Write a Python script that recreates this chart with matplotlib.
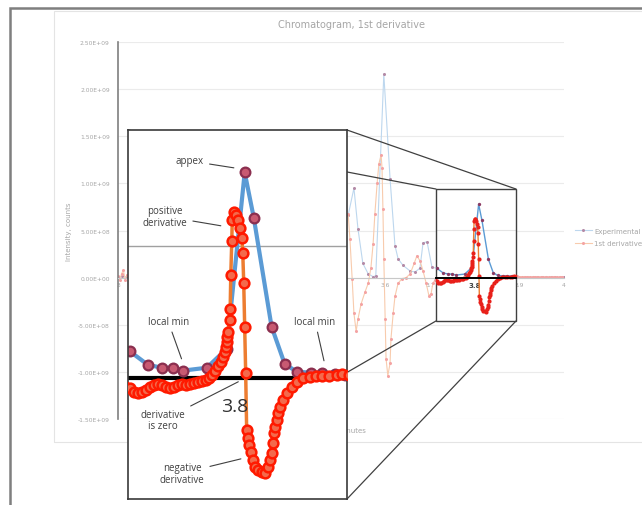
import matplotlib.pyplot as plt
import numpy as np
from matplotlib.patches import ConnectionPatch, Rectangle
from matplotlib.ticker import FuncFormatter

W, H = 642, 506
SCALE = 1e8  # values below are in units of 1e8 counts

# Experimental chromatogram (minutes, counts/1e8)
exp_x = [3.000, 3.010, 3.020,
         3.516, 3.529, 3.538, 3.549, 3.561, 3.572, 3.578, 3.596, 3.610, 3.621,
         3.628, 3.639, 3.655, 3.666, 3.677, 3.684, 3.693, 3.704,
         3.7146, 3.7293, 3.7408, 3.7498, 3.7579, 3.7775, 3.7939, 3.8086, 3.8160,
         3.8306, 3.8413, 3.8511, 3.8633, 3.8723, 3.8829, 3.8910,
         3.900, 3.910, 3.920, 3.930, 3.940, 3.950, 3.960, 3.970, 3.980, 3.990, 4.000]
exp_y = [0.10, 0.12, 0.10,
         6.6, 9.5, 5.2, 1.5, 0.4, 0.1, 0.2, 21.6, 10.5, 3.4,
         2.0, 1.3, 0.7, 0.6, 1.0, 3.7, 3.8, 1.1,
         1.00, 0.49, 0.38, 0.38, 0.27, 0.38, 1.10, 7.79, 6.08,
         1.94, 0.53, 0.23, 0.19, 0.19, 0.15, 0.11,
         0.10, 0.10, 0.09, 0.09, 0.08, 0.08, 0.07, 0.07, 0.07, 0.06, 0.06]

# 1st derivative (minutes, counts/1e8)
der_x = [3.000, 3.004, 3.008, 3.012, 3.016, 3.020, 3.024,
         3.516, 3.520, 3.525, 3.529, 3.534, 3.538, 3.545, 3.554, 3.561, 3.567,
         3.572, 3.576, 3.581, 3.585, 3.590, 3.592, 3.594, 3.596, 3.599, 3.601,
         3.605, 3.610, 3.612, 3.617, 3.621, 3.628, 3.637, 3.646, 3.655, 3.664,
         3.670, 3.677, 3.684, 3.691, 3.697, 3.702, 3.706, 3.710,
         3.7146, 3.7179, 3.7212, 3.7244, 3.7277, 3.7310, 3.7342, 3.7375, 3.7408,
         3.7440, 3.7473, 3.7506, 3.7538, 3.7571, 3.7604, 3.7637, 3.7669, 3.7702,
         3.7735, 3.7767, 3.7792, 3.7816, 3.7841, 3.7865, 3.7890, 3.7906, 3.7922,
         3.7931, 3.7939, 3.7943, 3.7947, 3.7963, 3.7967, 3.7972, 3.7980, 3.7984,
         3.7996, 3.8012, 3.8029, 3.8045, 3.8061, 3.8070, 3.8078, 3.8086, 3.8094,
         3.8102, 3.8110, 3.8119, 3.8135, 3.8151, 3.8168, 3.8192, 3.8225, 3.8249,
         3.8274, 3.8290, 3.8306, 3.8315, 3.8323, 3.8331, 3.8347, 3.8356, 3.8372,
         3.8396, 3.8429, 3.8470, 3.8511, 3.8560, 3.8617, 3.8674, 3.8723, 3.8780,
         3.8838, 3.8887,
         3.894, 3.900, 3.906, 3.912, 3.918, 3.924, 3.930, 3.936, 3.942, 3.948,
         3.954, 3.960, 3.966, 3.972, 3.978, 3.984, 3.990, 3.996]
der_y = [0.2, -0.3, 0.4, 0.8, -0.2, 0.3, 0.1,
         6.8, 4.1, -0.1, -3.8, -5.7, -4.4, -2.8, -1.5, -0.6, 1.0,
         3.6, 6.8, 10.0, 12.1, 13.0, 11.6, 7.3, 2.0, -4.4, -8.6,
         -10.4, -9.1, -6.5, -3.8, -2.0, -0.6, -0.1, 0.0, 0.4, 1.5,
         2.3, 1.8, 0.7, -0.6, -1.9, -1.7, -0.6, -0.3,
         -0.38, -0.53, -0.57, -0.53, -0.46, -0.34, -0.27, -0.23, -0.27,
         -0.34, -0.38, -0.34, -0.27, -0.23, -0.27, -0.23, -0.19, -0.15,
         -0.11, -0.08, 0.00, 0.11, 0.27, 0.46, 0.61, 0.80, 0.99,
         1.18, 1.37, 1.56, 1.75, 2.20, 2.62, 3.88, 5.17, 5.97,
         6.27, 6.19, 5.97, 5.70, 5.32, 4.75, 3.61, 1.94, 0.19,
         -1.98, -2.28, -2.55, -2.81, -3.12, -3.38, -3.50, -3.57, -3.61,
         -3.38, -3.12, -2.85, -2.47, -2.09, -1.86, -1.60, -1.33, -1.10,
         -0.84, -0.57, -0.34, -0.15, 0.00, 0.04, 0.08, 0.08, 0.08,
         0.11, 0.15,
         0.12, 0.10, 0.11, 0.09, 0.10, 0.08, 0.09, 0.08, 0.07, 0.08,
         0.07, 0.06, 0.07, 0.06, 0.05, 0.06, 0.05, 0.05]

x_ticks = [3.0, 3.1, 3.2, 3.3, 3.4, 3.5, 3.6, 3.7, 3.8, 3.9, 4.0]
x_labels = ['3', '3.1', '3.2', '3.3', '3.4', '3.5', '3.6', '3.7', '', '3.9', '4']
y_ticks = [-1.5e9, -1.0e9, -0.5e9, 0.0, 0.5e9, 1.0e9, 1.5e9, 2.0e9, 2.5e9]
zoom_xlim = (3.713, 3.8924)
zoom_ylim = (-4.6e8, 9.4e8)

exp_y = np.array(exp_y) * SCALE
der_y = np.array(der_y) * SCALE


def box(left, top, w, h):
    # pixel rectangle -> figure fraction
    return [left / W, 1 - (top + h) / H, w / W, h / H]


fig = plt.figure(figsize=(W / 100, H / 100), dpi=100)
grey = '#A6A6A6'

# frames around the slide / chart area
fig.add_artist(Rectangle((10 / W, -0.5), 2, 1.5 - 9 / H, transform=fig.transFigure,
                         fill=False, ec='#7F7F7F', lw=1.8))
fig.add_artist(Rectangle((54 / W, 1 - 443 / H), 2, (443 - 12) / H, transform=fig.transFigure,
                         fill=False, ec='#E4E4E4', lw=0.8))

# main chart
ax = fig.add_axes(box(118, 43, 446, 377))
ax.set_xlim(3.0, 4.0)
ax.set_ylim(-1.5e9, 2.5e9)
ax.plot(exp_x, exp_y, color='#BDD7EE', lw=0.8, marker='o', ms=2.2,
        mfc='#B48AA6', mec='none', label='Experimental')
ax.plot(der_x, der_y, color='#F8CBAD', lw=0.8, marker='o', ms=2.2,
        mfc='#F4A3A3', mec='none', label='1st derivative')
ax.set_xticks(x_ticks)
ax.set_xticklabels(x_labels)
ax.set_yticks(y_ticks)
ax.yaxis.set_major_formatter(FuncFormatter(lambda v, p: f'{v:.2E}'))
ax.yaxis.grid(True, color='#EBEBEB', lw=0.8)
ax.set_axisbelow(True)
for s in ['top', 'right']:
    ax.spines[s].set_visible(False)
ax.spines['left'].set_color('#7F7F7F')
ax.spines['left'].set_linewidth(1.2)
ax.spines['bottom'].set_position(('data', 0))
ax.spines['bottom'].set_color('#C8C8C8')
ax.spines['bottom'].set_linewidth(0.8)
ax.tick_params(length=0, labelsize=4.3, labelcolor=grey)
ax.tick_params(axis='y', pad=6)
ax.tick_params(axis='x', pad=3)
ax.set_ylabel('Intensity, counts', fontsize=5, color=grey)
ax.yaxis.set_label_coords((72 - 118) / 446, 0.5)
ax.set_xlabel('Time, minutes', fontsize=5, color=grey)
ax.xaxis.set_label_coords(0.5, (420 - 428) / 377)
ax.legend(loc='center left', bbox_to_anchor=((575 - 118) / 446, (420 - 238) / 377),
          frameon=False, fontsize=5, labelcolor=grey, handlelength=2.4,
          handletextpad=0.4, labelspacing=0.9, borderaxespad=0, borderpad=0)
fig.text(352 / W, 1 - 25 / H, 'Chromatogram, 1st derivative', ha='center', va='center',
         fontsize=7, color=grey)

# highlighted zoom window on the main chart
sb = fig.add_axes(box(436, 190, 80, 132), zorder=2)
sb.set_xlim(zoom_xlim)
sb.set_ylim(zoom_ylim)
sb.axhline(5e8, color='#E4E4E4', lw=0.8, zorder=0)
sb.plot(exp_x, exp_y, color='#5B9BD5', lw=1, marker='o', ms=2.4,
        mfc='#8B3A62', mec='none')
sb.plot(der_x, der_y, color='#ED7D31', lw=1, marker='o', ms=3,
        mfc='#E8201A', mec='none')
for s in ['top', 'right', 'left']:
    sb.spines[s].set_visible(False)
sb.spines['bottom'].set_position(('data', 0))
sb.spines['bottom'].set_color('black')
sb.spines['bottom'].set_linewidth(1.4)
sb.set_yticks([])
sb.set_xticks([3.8])
sb.set_xticklabels(['3.8'], fontweight='bold', fontsize=5, color='#404040')
sb.tick_params(axis='x', length=0, pad=3)
sb.add_patch(Rectangle((0, 0), 1, 1, transform=sb.transAxes, fill=False,
                       ec='#404040', lw=1, clip_on=False))

# magnified inset
ins = fig.add_axes(box(128, 131, 219, 369), zorder=4)
ins.set_xlim(zoom_xlim)
ins.set_ylim(zoom_ylim)
ins.axhline(5e8, color='#A0A0A0', lw=1, zorder=0)
ins.axhline(0, color='black', lw=3, zorder=1)
ins.plot(exp_x, exp_y, color='#5B9BD5', lw=3, marker='o', ms=7,
         mfc='#C85A72', mec='#8B2F4F', mew=1.6, zorder=2)
ins.plot(der_x, der_y, color='#ED7D31', lw=2.5, marker='o', ms=7,
         mfc='#F36A4C', mec='#FF1A00', mew=1.8, zorder=3)
ins.set_xticks([])
ins.set_yticks([])
for s in ins.spines.values():
    s.set_color('#3A3A3A')
    s.set_linewidth(1.2)

note = dict(fontsize=7, color='#3F3F3F', family=['Open Sans', 'DejaVu Sans'],
            ha='center', va='center', textcoords='axes fraction', linespacing=1.1)
arrow = dict(arrowstyle='-', color='#404040', lw=0.8, shrinkA=2, shrinkB=3)
ins.annotate('appex', xy=(3.8031, 7.94e8), xytext=(0.283, 0.916), arrowprops=arrow, **note)
ins.annotate('positive\nderivative', xy=(3.7924, 5.74e8), xytext=(0.169, 0.766),
             arrowprops=arrow, **note)
ins.annotate('local min', xy=(3.7580, 0.57e8), xytext=(0.183, 0.482), arrowprops=arrow, **note)
ins.annotate('local min', xy=(3.8743, 0.49e8), xytext=(0.854, 0.482), arrowprops=arrow, **note)
ins.annotate('derivative\nis zero', xy=(3.8064, -0.08e8), xytext=(0.160, 0.214),
             arrowprops=arrow, **note)
ins.annotate('negative\nderivative', xy=(3.8088, -3.04e8), xytext=(0.247, 0.070),
             arrowprops=arrow, **note)
ins.text(0.489, 0.252, '3.8', transform=ins.transAxes, fontsize=14, color='#333333',
         ha='center', va='center', family=['Open Sans', 'DejaVu Sans'])

# lines joining the zoom window corners to the inset corners
corners = [((0, 1), (zoom_xlim[0], zoom_ylim[1])), ((1, 1), (zoom_xlim[1], zoom_ylim[1])),
           ((0, 0), (zoom_xlim[0], zoom_ylim[0])), ((1, 0), (zoom_xlim[1], zoom_ylim[0]))]
for a, b in corners:
    cp = ConnectionPatch(xyA=a, coordsA=ins.transAxes, xyB=b, coordsB=ax.transData,
                         color='#404040', lw=0.9, zorder=3)
    fig.add_artist(cp)

fig.savefig('out.png', dpi=100)
